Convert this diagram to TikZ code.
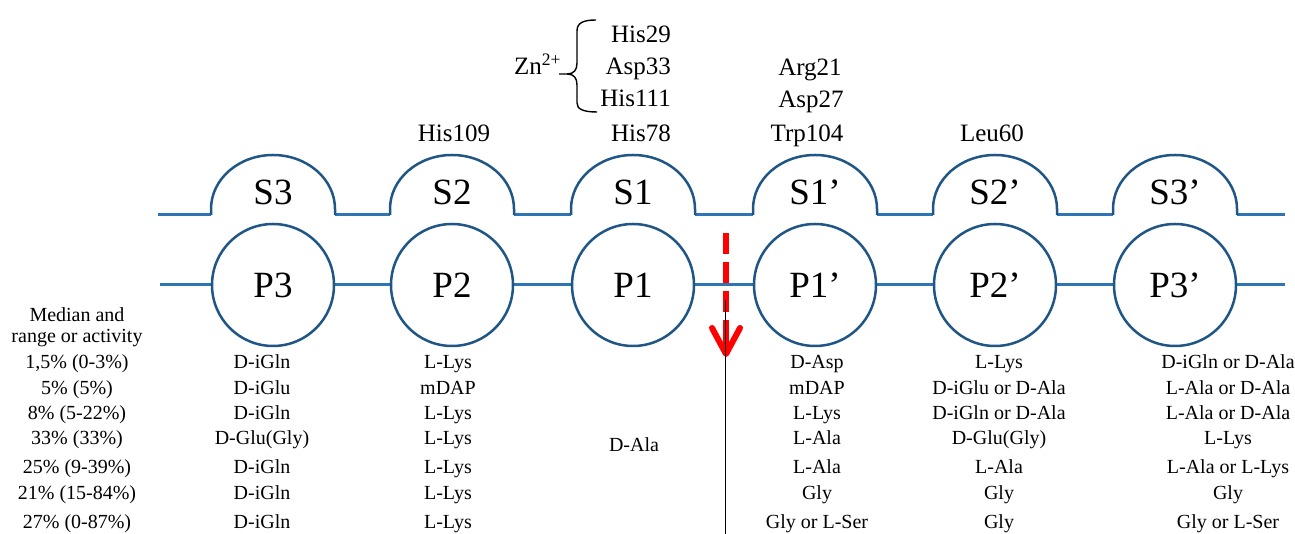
\documentclass[tikz,border=0pt]{standalone}
\usepackage{fontspec}
\setmainfont{Liberation Serif}
\newfontfamily\tnr{Liberation Serif}
\definecolor{lineblue}{RGB}{46,117,182}
\definecolor{circblue}{RGB}{31,86,134}
\begin{document}
\begin{tikzpicture}[x=1pt,y=1pt,
  row/.style={anchor=base, font=\tnr\fontsize{20}{24}\selectfont, inner sep=0pt},
  toplab/.style={anchor=base, font=\tnr\fontsize{25}{30}\selectfont, inner sep=0pt},
  pocket/.style={circle, draw=circblue, line width=2.5pt, fill=white, minimum size=122pt, inner sep=0pt, font=\tnr\fontsize{37}{44}\selectfont},
  site/.style={anchor=base, font=\tnr\fontsize{37}{44}\selectfont, inner sep=0pt},
  chain/.style={draw=lineblue, line width=3pt},
  dome/.style={draw=circblue, line width=2.5pt},
  cutline/.style={draw=red, line width=6pt}]
\useasboundingbox (0,0) rectangle (1295,534);

% top (S) line
\draw[chain] (158,319) -- (211,319) (335,319) -- (390,319) (514,319) -- (571,319)
  (695,319) -- (753,319) (877,319) -- (933,319) (1057,319) -- (1113,319) (1237,319) -- (1285,319);
\foreach \c in {273,452,633,815,995,1175}{
  \draw[dome] (\c-62,319) -- (\c-62,325) arc[start angle=180, end angle=0, x radius=62, y radius=54] -- (\c+62,319);
}
\node[site] (S3) at (273,329) {S3};
\node[site] (S2) at (452,329) {S2};
\node[site] (S1) at (633,329) {S1};
\node[site] (S1p) at (815,329) {S1’};
\node[site] (S2p) at (995,329) {S2’};
\node[site] (S3p) at (1175,329) {S3’};

% bottom (P) line with pockets
\coordinate (pl) at (160,249);
\coordinate (pr) at (1285,249);
\draw[chain] (pl) -- (pr);
\node[pocket] (P3) at (273,249) {P3};
\node[pocket] (P2) at (452,249) {P2};
\node[pocket] (P1) at (633,249) {P1};
\node[pocket] (P1p) at (815,249) {P1’};
\node[pocket] (P2p) at (995,249) {P2’};
\node[pocket] (P3p) at (1175,249) {P3’};

% cleavage arrow
\coordinate (ca) at (725.5,301);
\coordinate (cb) at (725.5,222);
\coordinate (cc) at (725.5,214);
\coordinate (ct) at (725.5,181);
\draw[cutline, dash pattern=on 21pt off 8pt] (ca) -- (cb);
\draw[cutline] (cc) -- (ct);
\draw[cutline, line cap=round, line join=round] (712,206) -- (726,180) -- (740,206);
\coordinate (bt) at (725.5,234);
\coordinate (bb) at (725.5,0);
\draw[black, line width=1.3pt] (bt) -- (bb);

% residues above
\node[toplab] (h109) at (454,392) {His109};
\node[toplab, anchor=base east] (h78) at (671,392) {His78};
\node[toplab, anchor=base east] (h111) at (671,427) {His111};
\node[toplab, anchor=base east] (a33) at (671,459) {Asp33};
\node[toplab, anchor=base east] (h29) at (671,491) {His29};
\node[toplab] (r21) at (810,458) {Arg21};
\node[toplab] (a27) at (811,426) {Asp27};
\node[toplab] (w104) at (807,392) {Trp104};
\node[toplab] (l60) at (992,392) {Leu60};
\node[toplab, anchor=base west] (zn) at (514,459) {Zn\textsuperscript{2+}};
\draw[black, line width=1.4pt]
  (596,514) .. controls (583,514) and (577,511) .. (577,503) -- (577,471)
  .. controls (577,464) and (574,460) .. (567,460) -- (559,460)
  (567,460) .. controls (574,460) and (577,456) .. (577,449) -- (577,431)
  .. controls (577,425) and (583,422) .. (597,422);

% table
\node[row] (med1) at (77,212) {Median and};
\node[row] (med2) at (77,191) {range or activity};
\foreach \y/\a/\b/\c/\d/\e/\f [count=\i] in {
  165.4/{1,5\% (0-3\%)}/D-iGln/L-Lys/D-Asp/L-Lys/D-iGln or D-Ala,
  139.4/{5\% (5\%)}/D-iGlu/mDAP/mDAP/D-iGlu or D-Ala/L-Ala or D-Ala,
  114.4/{8\% (5-22\%)}/D-iGln/L-Lys/L-Lys/D-iGln or D-Ala/L-Ala or D-Ala,
  89.4/{33\% (33\%)}/D-Glu(Gly)/L-Lys/L-Ala/D-Glu(Gly)/L-Lys,
  60.4/{25\% (9-39\%)}/D-iGln/L-Lys/L-Ala/L-Ala/L-Ala or L-Lys,
  34.4/{21\% (15-84\%)}/D-iGln/L-Lys/Gly/Gly/Gly,
  5.4/{27\% (0-87\%)}/D-iGln/L-Lys/Gly or L-Ser/Gly/Gly or L-Ser}{
  \node[row] (m\i) at (77,\y) {\a};
  \node[row] (p3r\i) at (262,\y) {\b};
  \node[row] (p2r\i) at (448,\y) {\c};
  \node[row] (p1pr\i) at (817,\y) {\d};
  \node[row] (p2pr\i) at (999,\y) {\e};
  \node[row] (p3pr\i) at (1228,\y) {\f};
}
\node[row] (dala) at (634,82) {D-Ala};
\end{tikzpicture}
\end{document}
